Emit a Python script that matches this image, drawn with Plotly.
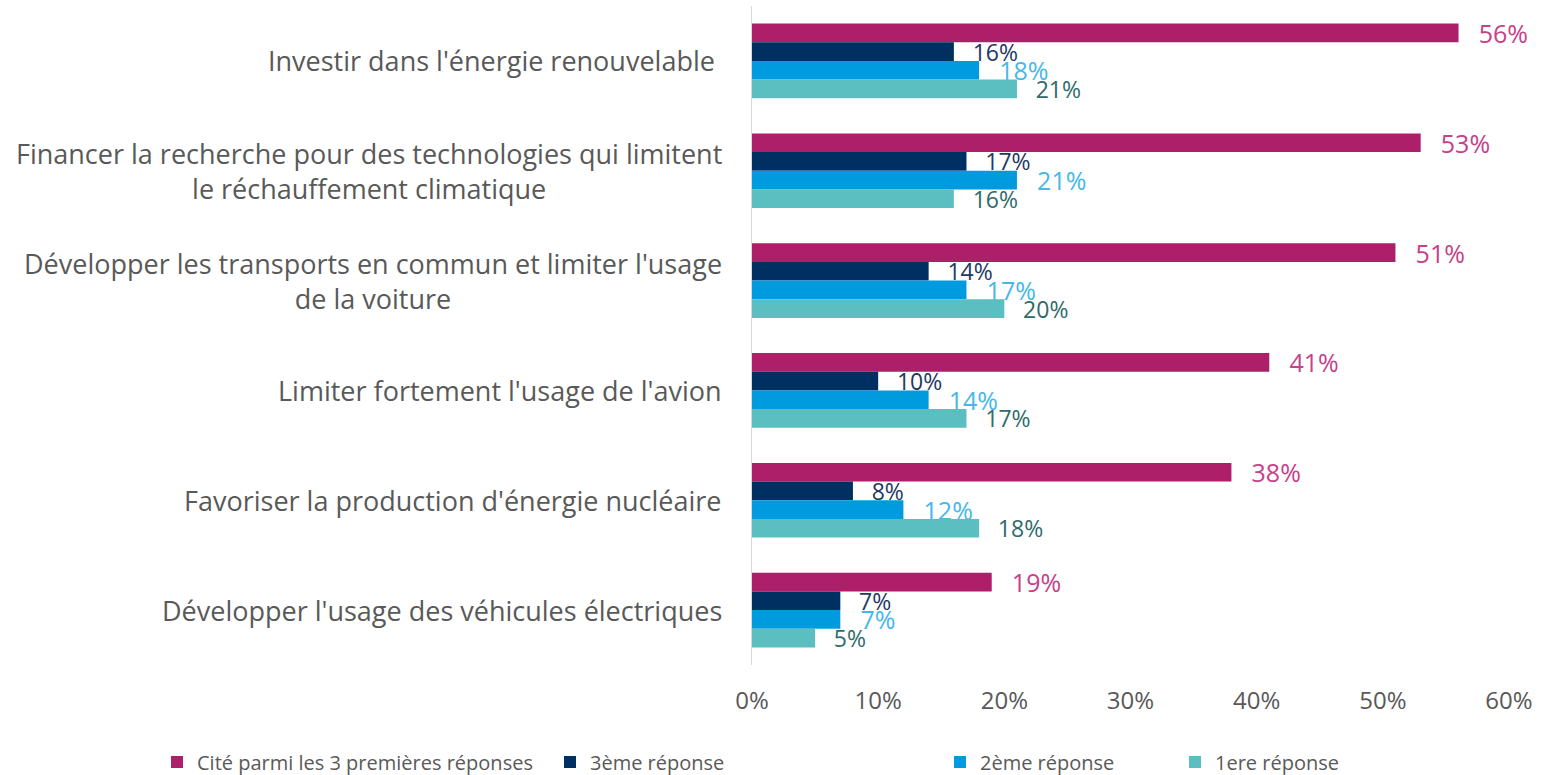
import plotly.graph_objects as go

categories = [
    "Investir dans l'énergie renouvelable\u00a0",
    "Financer la recherche pour des technologies qui limitent<br>le réchauffement climatique",
    "Développer les transports en commun et limiter l'usage<br>de la voiture",
    "Limiter fortement l'usage de l'avion",
    "Favoriser la production d'énergie nucléaire",
    "Développer l'usage des véhicules électriques",
]
cat_keys = ["c%d" % i for i in range(len(categories))]

series_names = ["Cité parmi les 3 premières réponses", "3ème réponse", "2ème réponse", "1ere réponse"]
cite_top3 = [56, 53, 51, 41, 38, 19]
rep3 = [16, 17, 14, 10, 8, 7]
rep2 = [18, 21, 17, 14, 12, 7]
rep1 = [21, 16, 20, 17, 18, 5]

bar_colors = ["#AE1F6A", "#002F62", "#009BDE", "#5BBEC0"]
label_colors = ["#C8408A", "#1F3864", "#45B8E8", "#2E6B6B"]
label_sizes = [25, 23, 25, 23]

FONT = "Open Sans"
GRAY = "#595959"

values = [cite_top3, rep3, rep2, rep1]
legend_ids = ["legend", "legend2", "legend3", "legend4"]

fig = go.Figure()
for idx in range(4):
    fig.add_trace(go.Bar(
        y=cat_keys, x=values[idx], orientation="h", name=series_names[idx],
        marker=dict(color=bar_colors[idx], line=dict(width=0)),
        text=values[idx], texttemplate="  \u2009%{text}%", textposition="outside",
        textfont=dict(family=FONT, size=label_sizes[idx], color=label_colors[idx]),
        constraintext="none", cliponaxis=False,
        legend=legend_ids[idx],
    ))

for key, label in zip(cat_keys, categories):
    fig.add_annotation(
        x=0, xref="paper", y=key, yref="y", text=label, showarrow=False,
        xanchor="right", yanchor="middle", align="center", xshift=-28,
        font=dict(family=FONT, size=27, color=GRAY),
    )

W, H = 1542, 775
ml, mr, mt, mb = 752, 33, 6, 110
pw, ph = W - ml - mr, H - mt - mb

def lx(px):
    return (px - ml) / pw

leg_y = -(762 - (H - mb)) / ph
leg_text_x = [197, 590, 980, 1215]
legend_layouts = {}
for i, lid in enumerate(legend_ids):
    legend_layouts[lid] = dict(
        x=lx(leg_text_x[i] - 40), xanchor="left", y=leg_y, yanchor="middle",
        orientation="h", bgcolor="rgba(0,0,0,0)", borderwidth=0,
        font=dict(family=FONT, size=20, color=GRAY),
    )

fig.update_layout(
    width=W, height=H,
    margin=dict(l=ml, r=mr, t=mt, b=mb, pad=0, autoexpand=False),
    barmode="group", bargap=0.32, bargroupgap=0,
    plot_bgcolor="white", paper_bgcolor="white",
    font=dict(family=FONT, color=GRAY),
    showlegend=True,
    xaxis=dict(range=[0, 60], dtick=10, ticksuffix="%", showgrid=False,
               zeroline=False, showline=False, ticks="",
               tickfont=dict(family=FONT, size=24, color=GRAY),
               ticklabelstandoff=19),
    yaxis=dict(categoryorder="array", categoryarray=cat_keys, autorange="reversed",
               showticklabels=False, showgrid=False, zeroline=False,
               showline=True, linecolor="#D9D9D9", linewidth=1, ticks=""),
    **legend_layouts,
)

fig.write_html(
    "out.html",
    config={"displayModeBar": False},
    post_script="document.body.style.margin='0';document.body.style.overflow='hidden';",
)
